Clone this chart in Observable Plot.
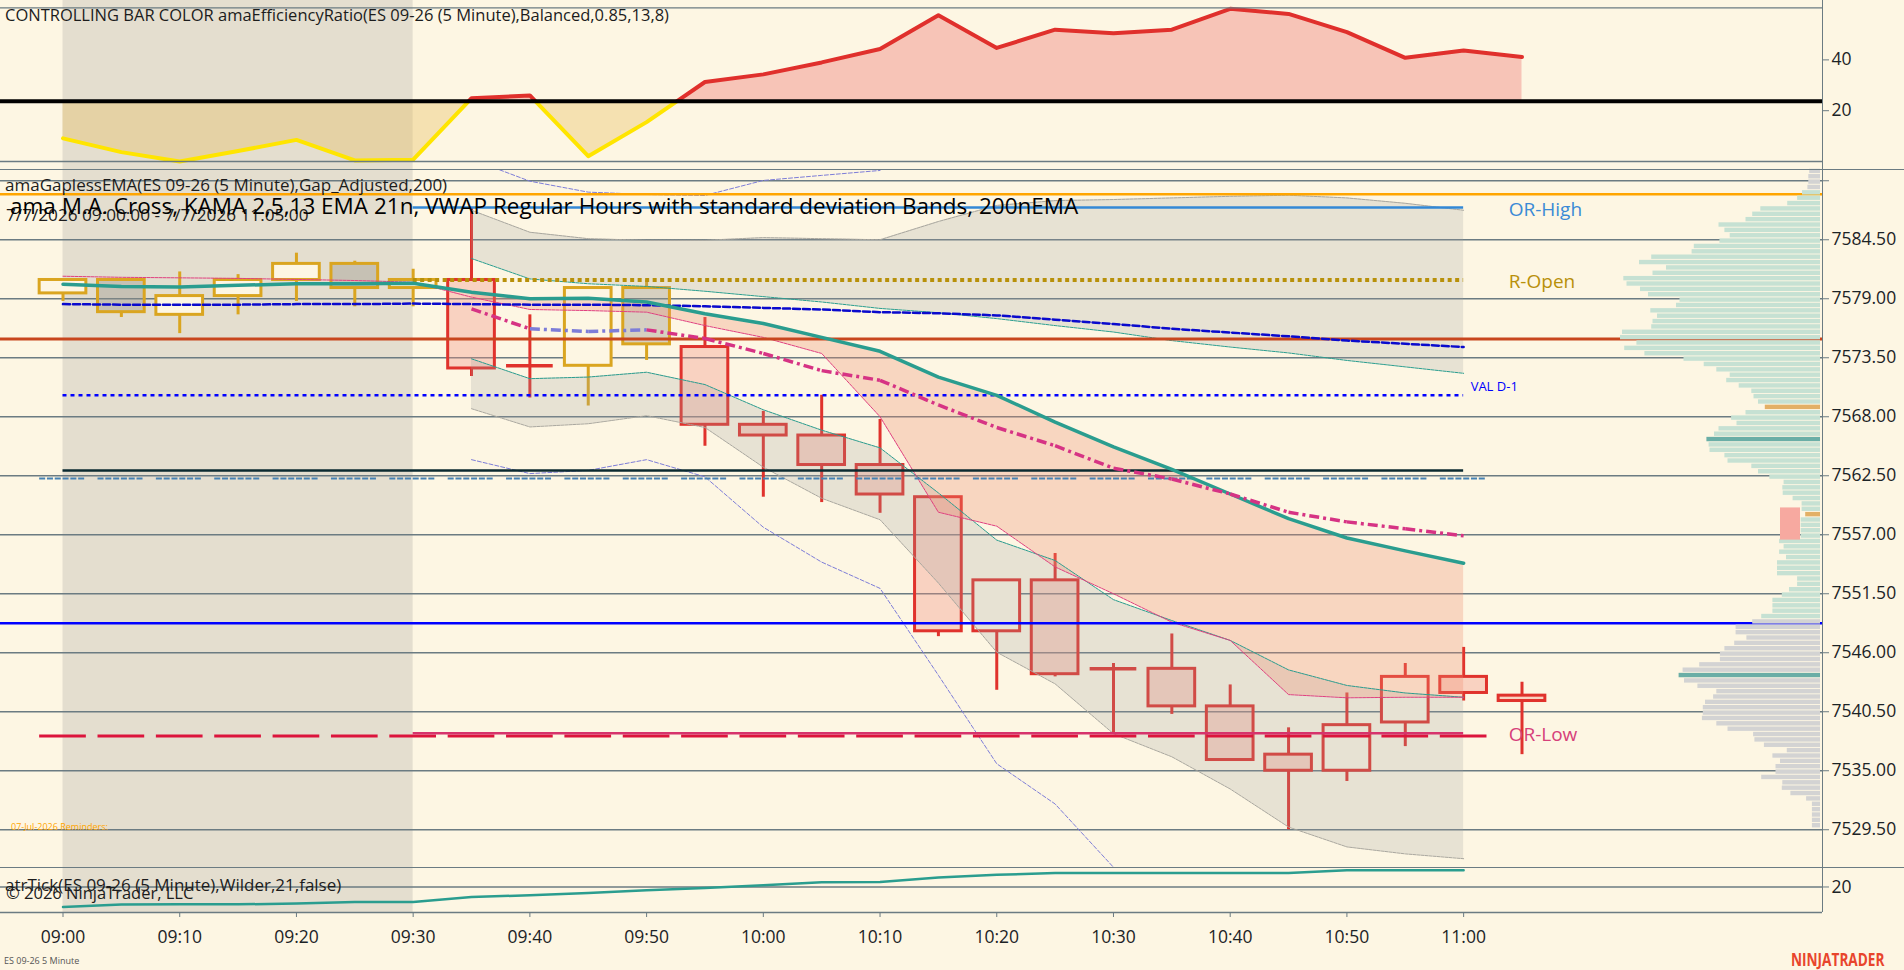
<!DOCTYPE html>
<html>
<head>
<meta charset="utf-8">
<script src="https://cdn.jsdelivr.net/npm/d3@7"></script>
<script src="https://cdn.jsdelivr.net/npm/@observablehq/plot@0.6"></script>
<style>
  html,body{margin:0;padding:0;background:#fdf6e3;}
  #chart{position:relative;width:1904px;height:970px;background:#fdf6e3;overflow:hidden;font-family:"Open Sans",sans-serif;color:#1c1c1c;}
  .txt{position:absolute;white-space:nowrap;line-height:1;font-family:"Open Sans",sans-serif;color:#1c1c1c;}
  .hline{position:absolute;background:#6b7b82;}
</style>
</head>
<body>
<div id="chart"></div>
<script>
// ---------------- data ----------------
const barTimes = ["09:00","09:05","09:10","09:15","09:20","09:25","09:30","09:35","09:40","09:45","09:50","09:55","10:00","10:05","10:10","10:15","10:20","10:25","10:30","10:35","10:40","10:45","10:50","10:55","11:00","11:05"];
const timeTicks = ["09:00","09:10","09:20","09:30","09:40","09:50","10:00","10:10","10:20","10:30","10:40","10:50","11:00"];

const openP  = [7579.50,7580.75,7577.50,7579.25,7580.75,7582.25,7580.00,7580.75,7572.75,7572.75,7580.00,7574.50,7567.25,7566.25,7563.50,7560.50,7548.00,7552.75,7544.50,7544.50,7541.00,7536.50,7535.00,7539.50,7543.75,7542.00];
const highP  = [7580.75,7580.75,7581.50,7581.25,7583.25,7582.50,7581.75,7587.50,7577.50,7580.00,7580.75,7577.25,7568.50,7570.00,7567.75,7560.50,7552.75,7555.25,7545.00,7547.75,7543.00,7539.00,7542.25,7545.00,7546.50,7543.25];
const lowP   = [7578.75,7577.25,7575.75,7577.50,7578.75,7578.25,7578.25,7571.75,7569.75,7569.00,7573.25,7565.25,7560.50,7560.00,7559.00,7547.50,7542.50,7543.75,7538.50,7540.25,7536.00,7529.50,7534.00,7537.25,7541.50,7536.50];
const closeP = [7580.75,7577.75,7579.25,7580.75,7582.25,7580.00,7580.75,7572.50,7572.75,7580.00,7574.75,7567.25,7566.25,7563.50,7560.75,7548.00,7552.75,7544.00,7544.50,7541.00,7536.00,7535.00,7539.25,7543.75,7542.25,7541.50];

// Efficiency ratio panel
const erValues = [9.1,3.7,0.0,4.1,8.5,0.4,0.7,24.9,26.0,2.1,15.5,31.3,34.3,39.0,44.3,57.6,44.7,51.9,50.5,51.9,60.1,58.1,50.9,40.8,43.7,41.1];
const erThreshold = 23.7;
const erTicks = [20, 40];
const erDomain = [0, 60.5];

// price-panel indicators (null = not plotted)
const ema21   = [7580.35,7580.15,7580.10,7580.25,7580.40,7580.40,7580.45,7579.60,7579.00,7579.05,7578.70,7577.60,7576.70,7575.40,7574.10,7571.70,7570.00,7567.50,7565.20,7563.10,7560.80,7558.50,7556.70,7555.50,7554.35,null];
const ema200  = [7578.50,7578.45,7578.45,7578.45,7578.50,7578.50,7578.55,7578.50,7578.45,7578.45,7578.40,7578.30,7578.15,7578.00,7577.75,7577.65,7577.45,7577.05,7576.65,7576.20,7575.85,7575.50,7575.10,7574.80,7574.50,null];
const kama    = [null,null,null,null,null,null,null,7578.05,7576.20,7575.95,7576.10,7575.30,7573.90,7572.30,7571.40,7569.10,7567.00,7565.30,7563.20,7562.20,7560.80,7559.10,7558.20,7557.55,7556.90,null];
const kamaAltSegments = [8, 9];
const vwapLine = [7581.10,7581.00,7580.95,7580.90,7580.80,7580.70,7580.55,7579.15,7578.00,7577.90,7577.75,7576.50,7575.40,7573.90,7568.00,7559.10,7557.80,7554.00,7551.50,7548.85,7547.15,7542.10,7541.80,7541.85,7541.85,null];
const upperOuter = [null,null,null,null,null,null,null,7587.25,7585.20,7584.60,7584.45,7584.45,7584.70,7584.60,7584.50,7586.20,7587.70,7588.15,7588.25,7588.40,7588.55,7588.65,7588.40,7587.90,7587.25,null];
const upperInner = [null,null,null,null,null,null,null,7582.75,7580.85,7580.40,7580.15,7579.70,7579.20,7578.70,7578.10,7577.70,7577.15,7576.50,7575.90,7575.10,7574.50,7573.95,7573.25,7572.65,7572.05,null];
const lowerInner = [null,null,null,null,null,null,null,7573.40,7571.55,7571.70,7572.15,7571.00,7568.65,7566.75,7565.10,7560.90,7556.50,7554.60,7550.95,7549.00,7547.15,7544.40,7542.95,7542.25,7541.85,null];
const lowerOuter = [null,null,null,null,null,null,null,7568.75,7567.05,7567.35,7568.10,7567.00,7563.30,7560.40,7558.40,7552.50,7546.05,7543.10,7538.45,7536.30,7533.30,7529.75,7527.90,7527.25,7526.80,null];
const upperOuter2 = [null,null,null,null,null,null,null,7592.00,7589.96,7588.94,7588.72,7588.63,7590.03,7590.50,7590.96,null,null,null,null,null,null,null,null,null,null,null];
const lowerOuter2 = [null,null,null,null,null,null,null,7564.00,7562.70,7563.00,7564.00,7562.40,7557.70,7554.45,7552.00,7543.90,7535.65,7531.90,7526.00,null,null,null,null,null,null,null];

// horizontal levels
const levelOrange = 7588.75, levelBrown = 7575.25, levelBlue = 7548.75;
const orHigh = 7587.50, rOpen = 7580.75, orLow = 7538.50, valD1 = 7570.00, levelBlack = 7563.00;
const dashSteel = 7562.25, dashCrimson = 7538.25;
const preMarket = [{from: "09:00", to: "09:30"}];

// ATR panel
const atrValues = [9.6,10.9,11.0,11.0,11.4,12.2,12.2,14.8,15.7,16.9,18.3,19.5,20.9,22.5,22.6,24.9,26.3,27.3,27.3,27.3,27.3,27.3,28.7,28.7,28.7,null];
const atrTicks = [20];
const atrDomain = [6.77, 30.1];

// price axis
const priceTicks = [7590.0,7584.5,7579.0,7573.5,7568.0,7562.5,7557.0,7551.5,7546.0,7540.5,7535.0,7529.5];
const priceDomain = [7525.98, 7591.05];

// volume profile (price row, volume)
const profilePrice = [7591.0,7590.5,7590.0,7589.5,7589.0,7588.5,7588.0,7587.5,7587.0,7586.5,7586.0,7585.5,7585.0,7584.5,7584.0,7583.5,7583.0,7582.5,7582.0,7581.5,7581.0,7580.5,7580.0,7579.5,7579.0,7578.5,7578.0,7577.5,7577.0,7576.5,7576.0,7575.5,7575.0,7574.5,7574.0,7573.5,7573.0,7572.5,7572.0,7571.5,7571.0,7570.5,7570.0,7569.5,7569.0,7568.5,7568.0,7567.5,7567.0,7566.5,7566.0,7565.5,7565.0,7564.5,7564.0,7563.5,7563.0,7562.5,7562.0,7561.5,7561.0,7560.5,7560.0,7559.5,7559.0,7558.5,7558.0,7557.5,7557.0,7556.5,7556.0,7555.5,7555.0,7554.5,7554.0,7553.5,7553.0,7552.5,7552.0,7551.5,7551.0,7550.5,7550.0,7549.5,7549.0,7548.5,7548.0,7547.5,7547.0,7546.5,7546.0,7545.5,7545.0,7544.5,7544.0,7543.5,7543.0,7542.5,7542.0,7541.5,7541.0,7540.5,7540.0,7539.5,7539.0,7538.5,7538.0,7537.5,7537.0,7536.5,7536.0,7535.5,7535.0,7534.5,7534.0,7533.5,7533.0,7532.5,7532.0,7531.5,7531.0,7530.5,7530.0];
const profileVolume = [10.8,11.7,11.7,12.6,18,22.9,32.8,59.7,67.8,74.5,101.5,95.6,90.3,100.6,126.2,128.4,168.8,181,154,167.5,196.7,193.5,180,172,140.5,144,169.7,163,167.5,168.8,198,200,183.6,195.8,175.6,136.5,116.3,103.7,90.3,93.8,81.3,68.7,66.5,62,55.2,74.5,88.9,83.5,101.5,106,113.6,111.4,110.5,95.6,92.5,68.7,62,50.7,36.4,37.7,37.3,27.4,18.4,18.4,14.8,19.3,19.3,19.3,19.3,40.9,36.4,40.9,34,43,43,43,22.9,22.9,31,38.2,47.6,47.6,47.6,58.8,67.8,84.4,84.4,73.6,85.8,95.6,100.1,100.1,120.8,137.4,141.4,136,122.6,103.7,106.9,115,117.2,117.2,118.1,103.7,92.5,66.9,65.6,56.1,33.2,47.6,40,44.5,44.5,58.8,37.7,38.2,29.6,13.9,8.1,8.1,8.1,8.1,8.1];
const profileUpperGreyFrom = 7589.5, profileLowerGreyFrom = 7549.0;
const profilePoc = [7566.0, 7544.0];
const profileOrange = [7569.0, 7559.0];
const profileBox = [{from: 20, to: 40, low: 7556.5, high: 7559.5}];

// ---------------- layout / style ----------------
const W = 1904, H = 970, AXIS_X = 1822;
const ER_BOTTOM = 169, MAIN_TOP = 169, MAIN_BOTTOM = 867, ATR_BOTTOM = 912;
const BG = "#fdf6e3", GRID = "#6b7b82", TEXT = "#1c2326";
const RED = "#e0322c", GOLD = "#daa520", TEAL = "#2a9d8f", PINK = "#d63384", PURPLE = "#7d7dd8";
const FONT = "Open Sans";

const T = s => { const [h, m] = s.split(":").map(Number); return new Date(Date.UTC(2026, 6, 7, h, m)); };
const off = (d, min) => new Date(+d + min * 60000);

const bars = barTimes.map((s, i) => {
  const d = {i, t: T(s), open: openP[i], high: highP[i], low: lowP[i], close: closeP[i], er: erValues[i]};
  d.color = d.er > erThreshold ? RED : GOLD;
  d.up = d.close > d.open;
  d.fill = d.up ? BG : (d.color === RED ? "rgba(240,144,128,0.35)" : "rgba(150,146,138,0.38)");
  return d;
});
const ind = bars.map((d, i) => ({
  i, t: d.t, ema21: ema21[i], ema200: ema200[i], kama: kama[i], vwap: vwapLine[i],
  uo: upperOuter[i], ui: upperInner[i], li: lowerInner[i], lo: lowerOuter[i],
  uo2: upperOuter2[i], lo2: lowerOuter2[i], atr: atrValues[i]
}));
const kamaSeg = [];
for (let i = 0; i < kama.length - 1; i++) {
  if (kama[i] != null && kama[i + 1] != null)
    kamaSeg.push({t1: bars[i].t, t2: bars[i + 1].t, y1: kama[i], y2: kama[i + 1], color: kamaAltSegments.includes(i) ? PURPLE : PINK});
}
const erData = bars.map(d => ({t: d.t, v: d.er}));
const tradingBars = bars.filter(d => d.i <= 24);

const xScale = {type: "utc", domain: [T(barTimes[0]), T(barTimes[barTimes.length - 1])], range: [62.5, 1521.5]};
const chart = document.getElementById("chart");

function layer(opts, clip) {
  const svg = Plot.plot(Object.assign({
    width: W, height: H, marginLeft: 0, marginRight: W - AXIS_X,
    style: {background: "transparent", maxWidth: "none", position: "absolute", left: "0px", top: "0px", overflow: "visible", fontFamily: FONT, color: TEXT}
  }, opts));
  if (clip) svg.style.clipPath = clip;
  chart.appendChild(svg);
  return svg;
}
function hline(top, left, width) {
  const d = document.createElement("div");
  d.className = "hline";
  Object.assign(d.style, {top: top + "px", left: left + "px", width: width + "px", height: "1.3px"});
  chart.appendChild(d);
}
function vline(left, top, height) {
  const d = document.createElement("div");
  d.className = "hline";
  Object.assign(d.style, {top: top + "px", left: left + "px", width: "1.3px", height: height + "px"});
  chart.appendChild(d);
}
function label(text, left, baseline, size, extra) {
  const d = document.createElement("div");
  d.className = "txt";
  d.textContent = text;
  Object.assign(d.style, {left: left + "px", top: (baseline - 0.888 * size) + "px", fontSize: size + "px"}, extra || {});
  chart.appendChild(d);
}

// pre-market shading (all panels)
layer({marginTop: 0, marginBottom: H - ATR_BOTTOM, x: {...xScale, axis: null}, y: {domain: [0, 1], axis: null},
  marks: [Plot.rect(preMarket, {x1: d => T(d.from), x2: d => T(d.to), fill: "#808080", fillOpacity: 0.2})]});

// ---------- efficiency ratio panel ----------
const erY = {domain: erDomain, range: [161, 7.3], axis: null};
const erRed = layer({marginTop: 0, marginBottom: H - ER_BOTTOM, x: {...xScale, axis: null}, y: erY,
  marks: [
    Plot.areaY(erData, {x: "t", y1: erThreshold, y2: "v", fill: "#ee7f7a", fillOpacity: 0.42}),
    Plot.lineY(erData, {x: "t", y: "v", stroke: "#e0302c", strokeWidth: 4})
  ]});
const ty = erRed.scale("y").apply(erThreshold);
erRed.style.clipPath = `inset(0px 0px ${H - ty}px 0px)`;
layer({marginTop: 0, marginBottom: H - ER_BOTTOM, x: {...xScale, axis: null}, y: erY,
  marks: [
    Plot.areaY(erData, {x: "t", y1: erThreshold, y2: "v", fill: "#e8c060", fillOpacity: 0.38}),
    Plot.lineY(erData, {x: "t", y: "v", stroke: "#ffe500", strokeWidth: 4})
  ]}, `inset(${ty}px 0px 0px 0px)`);
layer({marginTop: 0, marginBottom: H - ER_BOTTOM, x: {...xScale, axis: null}, y: erY,
  marks: [
    Plot.ruleY(erDomain, {stroke: GRID, strokeWidth: 1.3}),
    Plot.ruleY([erThreshold], {stroke: "#000", strokeWidth: 4}),
    Plot.axisY(erTicks, {anchor: "right", label: null, tickSize: 6, tickPadding: 3, fontSize: 17.5, stroke: GRID, fill: TEXT, tickFormat: d => String(d)})
  ]});

// ---------- price panel ----------
const mainMarks = [
  Plot.gridY(priceTicks, {stroke: GRID, strokeOpacity: 1, strokeWidth: 1.3}),
  // candles
  Plot.ruleX(bars, {x: "t", y1: "high", y2: d => Math.max(d.open, d.close), stroke: d => d.color, strokeWidth: 3}),
  Plot.ruleX(bars, {x: "t", y1: "low", y2: d => Math.min(d.open, d.close), stroke: d => d.color, strokeWidth: 3}),
  Plot.rect(bars.filter(d => d.open !== d.close), {x1: d => off(d.t, -2), x2: d => off(d.t, 2), y1: "open", y2: "close", fill: d => d.fill, stroke: d => d.color, strokeWidth: 3}),
  Plot.ruleY(bars.filter(d => d.open === d.close), {y: "close", x1: d => off(d.t, -2), x2: d => off(d.t, 2), stroke: d => d.color, strokeWidth: 3.5}),
  // fills
  Plot.areaY(ind, {x: "t", y1: "ui", y2: "uo", fill: "#a0a0a0", fillOpacity: 0.23}),
  Plot.areaY(ind, {x: "t", y1: "lo", y2: "li", fill: "#a0a0a0", fillOpacity: 0.23}),
  Plot.areaY(ind.filter(d => d.i >= 7 && d.i <= 24), {x: "t", y1: "vwap", y2: "ema21", fill: "#f08a70", fillOpacity: 0.3}),
  // band edges
  Plot.lineY(ind, {x: "t", y: "uo", stroke: "#a9a79f", strokeWidth: 1, strokeDasharray: "3,1"}),
  Plot.lineY(ind, {x: "t", y: "lo", stroke: "#a9a79f", strokeWidth: 1, strokeDasharray: "3,1"}),
  Plot.lineY(ind, {x: "t", y: "ui", stroke: TEAL, strokeWidth: 1, strokeDasharray: "3,1"}),
  Plot.lineY(ind, {x: "t", y: "li", stroke: TEAL, strokeWidth: 1, strokeDasharray: "3,1"}),
  Plot.lineY(ind, {x: "t", y: "vwap", stroke: "#e0407f", strokeWidth: 1, strokeDasharray: "3,1"}),
  Plot.lineY(ind, {x: "t", y: "uo2", stroke: PURPLE, strokeWidth: 1, strokeDasharray: "4,2", clip: true}),
  Plot.lineY(ind, {x: "t", y: "lo2", stroke: PURPLE, strokeWidth: 1, strokeDasharray: "4,2", clip: true}),
  // levels
  Plot.ruleY([levelOrange], {stroke: "#ffa500", strokeWidth: 2.5}),
  Plot.ruleY([levelBrown], {stroke: "#c8461e", strokeWidth: 3}),
  Plot.ruleY([levelBlue], {stroke: "#0000ff", strokeWidth: 2.5}),
  Plot.ruleY([orHigh], {x1: () => T("09:30"), x2: () => T("11:00"), stroke: "#3388d6", strokeWidth: 2.5}),
  Plot.ruleY([rOpen], {x1: () => T("09:30"), x2: () => T("11:00"), stroke: "#b8900a", strokeWidth: 4, strokeDasharray: "4,3.5"}),
  Plot.ruleY([valD1], {x1: () => T("09:00"), x2: () => T("11:00"), stroke: "#0000ff", strokeWidth: 2.5, strokeDasharray: "4,4"}),
  Plot.ruleY([levelBlack], {x1: () => T("09:00"), x2: () => T("11:00"), stroke: "#0b2a30", strokeWidth: 2.5}),
  Plot.ruleY(tradingBars, {y: () => dashSteel, x1: d => off(d.t, -2), x2: d => off(d.t, 2), stroke: "#4682b4", strokeWidth: 2, strokeDasharray: "6,1.8"}),
  Plot.ruleY(tradingBars, {y: () => dashCrimson, x1: d => off(d.t, -2), x2: d => off(d.t, 2), stroke: "#dc143c", strokeWidth: 3}),
  Plot.ruleY([orLow], {x1: () => T("09:30"), x2: () => T("11:00"), stroke: "#d6336c", strokeWidth: 2.5}),
  // moving averages
  Plot.lineY(ind, {x: "t", y: "ema200", stroke: "#0a0acd", strokeWidth: 2.5, strokeDasharray: "7,3"}),
  Plot.lineY(ind, {x: "t", y: "ema21", stroke: TEAL, strokeWidth: 3.5}),
  Plot.link(kamaSeg, {x1: "t1", y1: "y1", x2: "t2", y2: "y2", stroke: "color", strokeWidth: 3.5, strokeDasharray: "10,4,3,4"}),
  // labels
  Plot.text([{name: "OR-High", price: orHigh, color: "#3a8ad6"}, {name: "R-Open", price: rOpen, color: "#b8900a"}, {name: "OR-Low", price: orLow, color: "#d6407a"}],
    {x: () => T("11:00"), y: "price", text: "name", fill: "color", textAnchor: "start", dx: 45, dy: 2, fontSize: 19, fontFamily: FONT}),
  Plot.text([{name: "VAL D-1", price: valD1}], {x: () => T("11:00"), y: "price", text: "name", fill: "#0000ff", textAnchor: "start", dx: 7, dy: -8, fontSize: 13, fontFamily: FONT}),
  Plot.axisY(priceTicks, {anchor: "right", label: null, tickSize: 6, tickPadding: 3, fontSize: 17.5, stroke: GRID, fill: TEXT, tickFormat: d => d === priceTicks[0] ? "" : d.toFixed(2)})
];
layer({marginTop: MAIN_TOP, marginBottom: H - MAIN_BOTTOM, x: {...xScale, axis: null}, y: {domain: priceDomain, axis: null}, marks: mainMarks});

// ---------- volume profile ----------
const profile = profilePrice.map((p, i) => ({p, v: profileVolume[i]}));
const profColor = d => profilePoc.includes(d.p) ? "#6aaea6" : profileOrange.includes(d.p) ? "#e3b066"
  : (d.p >= profileUpperGreyFrom || d.p <= profileLowerGreyFrom) ? "#d3d3d3" : "#c6e1d3";
layer({marginTop: MAIN_TOP, marginBottom: H - MAIN_BOTTOM, x: {domain: [0, 200], range: [1820, 1620], axis: null}, y: {domain: priceDomain, axis: null},
  marks: [
    Plot.rect(profile, {x1: 0, x2: "v", y1: d => d.p - 0.33, y2: d => d.p + 0.08, fill: profColor}),
    Plot.rect(profileBox, {x1: "from", x2: "to", y1: "low", y2: "high", fill: "#f7a9a0"})
  ]});

// ---------- ATR panel ----------
layer({marginTop: MAIN_BOTTOM, marginBottom: H - ATR_BOTTOM, x: {...xScale, axis: null}, y: {domain: atrDomain, axis: null},
  marks: [
    Plot.ruleY(atrTicks, {stroke: GRID, strokeWidth: 1.3}),
    Plot.ruleY([atrDomain[0]], {stroke: GRID, strokeWidth: 1.3}),
    Plot.lineY(ind, {x: "t", y: "atr", stroke: TEAL, strokeWidth: 2.5}),
    Plot.axisY(atrTicks, {anchor: "right", label: null, tickSize: 6, tickPadding: 3, fontSize: 17.5, stroke: GRID, fill: TEXT, tickFormat: d => String(d)}),
    Plot.axisX(timeTicks.map(T), {anchor: "bottom", label: null, tickSize: 5, tickPadding: 13, fontSize: 17.5, stroke: GRID, fill: TEXT, tickFormat: d3.utcFormat("%H:%M")})
  ]});

// separators & axis line
hline(ER_BOTTOM, 0, W);
hline(MAIN_BOTTOM, 0, W);
vline(AXIS_X, 0, ATR_BOTTOM);

// ---------- texts ----------
label("CONTROLLING BAR COLOR amaEfficiencyRatio(ES 09-26 (5 Minute),Balanced,0.85,13,8)", 5, 22, 16.5);
label("amaGaplessEMA(ES 09-26 (5 Minute),Gap_Adjusted,200)", 5, 191.5, 17);
label("7/7/2026 09:00:00 - 7/7/2026 11:05:00", 6, 221.5, 17.2);
label("ama M.A. Cross, KAMA 2,5,13 EMA 21n, VWAP Regular Hours with standard deviation Bands, 200nEMA", 10, 214.5, 22.5, {color: "#000"});
label("07-Jul-2026 Reminders:", 11, 830, 9, {color: "#ffa500"});
label("atrTick(ES 09-26 (5 Minute),Wilder,21,false)", 5, 891.5, 17);
label("© 2026 NinjaTrader, LLC", 6, 899.5, 16.5);
label("ES 09-26 5 Minute", 4, 964, 9, {color: "#555"});
label("NINJATRADER", 1791, 966, 17, {color: "#e8452c", fontWeight: "700", transform: "scaleX(0.8)", transformOrigin: "left"});
</script>
</body>
</html>
